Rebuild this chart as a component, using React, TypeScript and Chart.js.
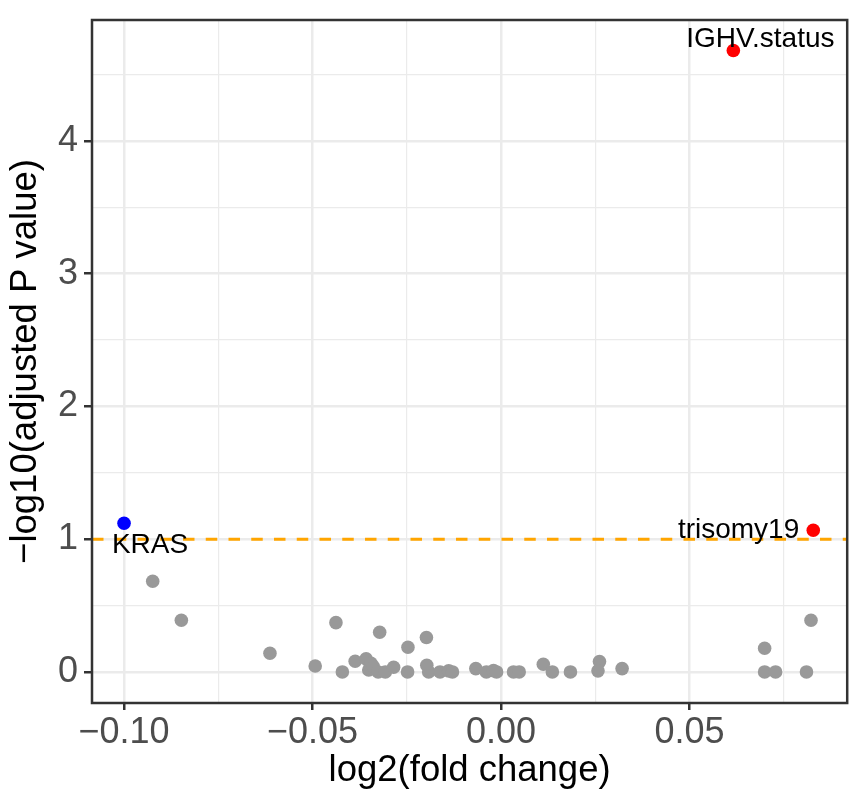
import { useEffect, useRef } from "react";
import { Chart, registerables } from "chart.js";

Chart.register(...registerables);

// ---- data ----
const grayX = [
  -0.0924, -0.0848, -0.0613, -0.0493, -0.0438, -0.0421, -0.0387, -0.0358, -0.0345, -0.0351,
  -0.0339, -0.0322, -0.0326, -0.0307, -0.0285, -0.0247, -0.0248, -0.0198, -0.0197, -0.0192,
  -0.0162, -0.0139, -0.0129, -0.0067, -0.0039, -0.002, -0.0012, 0.0033, 0.0048, 0.0112,
  0.0136, 0.0184, 0.0261, 0.0257, 0.0321, 0.0699, 0.0699, 0.0728, 0.081, 0.0822,
];
const grayY = [
  0.683, 0.389, 0.141, 0.045, 0.371, 0.0, 0.08, 0.098, 0.065, 0.015,
  0.04, 0.299, 0.0, 0.0, 0.035, 0.186, 0.0, 0.259, 0.05, 0.0,
  0.0, 0.008, 0.0, 0.025, 0.0, 0.01, 0.0, 0.0, 0.0, 0.058,
  0.0, 0.0, 0.078, 0.008, 0.025, 0.178, 0.0, 0.0, 0.0, 0.389,
];
const upGenes = ["IGHV.status", "trisomy19"];
const upX = [0.0616, 0.0828];
const upY = [4.68, 1.067];
const downGenes = ["KRAS"];
const downX = [-0.1];
const downY = [1.12];
const threshold = 1;

const xTickValues = [-0.1, -0.075, -0.05, -0.025, 0, 0.025, 0.05, 0.075];
const xTickLabels = ["\u22120.10", "", "\u22120.05", "", "0.00", "", "0.05", ""];
const yTickValues = [0, 0.5, 1, 1.5, 2, 2.5, 3, 3.5, 4, 4.5];
const yTickLabels = ["0", "", "1", "", "2", "", "3", "", "4", ""];

const xTitle = "log2(fold change)";
const yTitle = "\u2212log10(adjusted P value)";

// ---- styling ----
const FONT = "'Liberation Sans', Arial, Helvetica, sans-serif";
const labelOffsets: Record<string, { dx: number; dy: number; align: CanvasTextAlign }> = {
  "IGHV.status": { dx: 27, dy: -11, align: "center" },
  trisomy19: { dx: -14, dy: 0, align: "right" },
  KRAS: { dx: 26, dy: 22, align: "center" },
};

const panelPlugin = {
  id: "panelDecor",
  beforeDatasetsDraw(chart: any) {
    const { ctx, chartArea, scales } = chart;
    const y = scales.y.getPixelForValue(threshold);
    ctx.save();
    ctx.beginPath();
    ctx.rect(chartArea.left, chartArea.top, chartArea.right - chartArea.left, chartArea.bottom - chartArea.top);
    ctx.clip();
    ctx.strokeStyle = "#FFA500";
    ctx.lineWidth = 3;
    ctx.setLineDash([11.5, 11.25]);
    ctx.beginPath();
    ctx.moveTo(chartArea.left, y);
    ctx.lineTo(chartArea.right, y);
    ctx.stroke();
    ctx.restore();
  },
  afterDatasetsDraw(chart: any) {
    const { ctx, chartArea, scales } = chart;
    ctx.save();
    ctx.font = `28px ${FONT}`;
    ctx.fillStyle = "#000000";
    ctx.textBaseline = "middle";
    const draw = (names: string[], xs: number[], ys: number[]) => {
      names.forEach((n, i) => {
        const o = labelOffsets[n];
        const px = scales.x.getPixelForValue(xs[i]);
        const py = scales.y.getPixelForValue(ys[i]);
        ctx.textAlign = o.align;
        ctx.fillText(n, px + o.dx, py + o.dy);
      });
    };
    draw(upGenes, upX, upY);
    draw(downGenes, downX, downY);
    // panel border
    ctx.strokeStyle = "#333333";
    ctx.lineWidth = 2.5;
    ctx.strokeRect(chartArea.left, chartArea.top, chartArea.right - chartArea.left, chartArea.bottom - chartArea.top);
    ctx.restore();
  },
};

export default function App() {
  const ref = useRef<HTMLCanvasElement | null>(null);
  useEffect(() => {
    if (!ref.current) return;
    const toPts = (xs: number[], ys: number[]) => xs.map((x, i) => ({ x, y: ys[i] }));
    const chart = new Chart(ref.current, {
      type: "scatter",
      data: {
        datasets: [
          { data: toPts(grayX, grayY), backgroundColor: "#999999", borderWidth: 0, pointRadius: 6.8 },
          { data: toPts(upX, upY), backgroundColor: "#FF0000", borderWidth: 0, pointRadius: 6.8 },
          { data: toPts(downX, downY), backgroundColor: "#0000FF", borderWidth: 0, pointRadius: 6.8 },
        ],
      },
      options: {
        animation: false,
        responsive: true,
        maintainAspectRatio: false,
        layout: { padding: { top: 20, right: 2, left: 0, bottom: 0 } },
        plugins: { legend: { display: false }, tooltip: { enabled: false } },
        scales: {
          x: {
            type: "linear",
            min: -0.1085,
            max: 0.0918,
            afterBuildTicks: (s: any) => {
              s.ticks = xTickValues.map((v) => ({ value: v }));
            },
            afterFit: (s: any) => {
              s.height = 91;
              s.paddingLeft = 0;
              s.paddingRight = 0;
            },
            border: { display: false },
            grid: {
              color: "#EBEBEB",
              lineWidth: (c: any) => (c.index % 2 === 0 ? 2.5 : 1.2),
              tickColor: (c: any) => (c.index % 2 === 0 ? "#333333" : "rgba(0,0,0,0)"),
              tickWidth: 2.5,
              tickLength: 7,
              drawTicks: true,
            },
            ticks: {
              autoSkip: false,
              maxRotation: 0,
              padding: 1.5,
              color: "#4D4D4D",
              font: { family: FONT, size: 36 },
              callback: (_v: any, i: number) => xTickLabels[i],
            },
            title: {
              display: true,
              text: xTitle,
              color: "#000000",
              font: { family: FONT, size: 36.5 },
              padding: { top: 0, bottom: 1 },
            },
          },
          y: {
            type: "linear",
            min: -0.234,
            max: 4.91,
            afterBuildTicks: (s: any) => {
              s.ticks = yTickValues.map((v) => ({ value: v }));
            },
            afterFit: (s: any) => {
              s.width = 92;
              s.paddingTop = 0;
              s.paddingBottom = 0;
            },
            border: { display: false },
            grid: {
              color: "#EBEBEB",
              lineWidth: (c: any) => (c.index % 2 === 0 ? 2.5 : 1.2),
              tickColor: (c: any) => (c.index % 2 === 0 ? "#333333" : "rgba(0,0,0,0)"),
              tickWidth: 2.5,
              tickLength: 8,
              drawTicks: true,
            },
            ticks: {
              autoSkip: false,
              padding: 6,
              color: "#4D4D4D",
              font: { family: FONT, size: 36 },
              callback: (_v: any, i: number) => yTickLabels[i],
            },
            title: {
              display: true,
              text: yTitle,
              color: "#000000",
              font: { family: FONT, size: 36.5 },
              padding: { top: 4, bottom: 0 },
            },
          },
        },
      },
      plugins: [panelPlugin],
    });
    return () => chart.destroy();
  }, []);
  return (
    <div style={{ position: "fixed", left: 0, top: 0, width: 854, height: 794, background: "#FFFFFF" }}>
      <canvas ref={ref} />
    </div>
  );
}
